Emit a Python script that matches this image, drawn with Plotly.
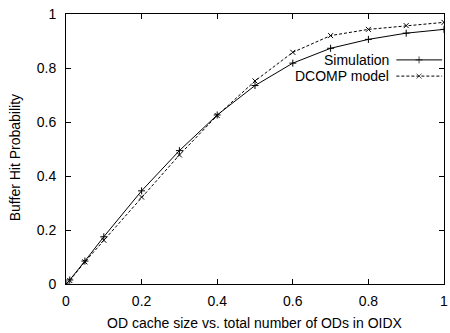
import plotly.graph_objects as go

# OD cache size as a fraction of all ODs in OIDX
cache_fraction = [0, 0.01, 0.05, 0.1, 0.2, 0.3, 0.4, 0.5, 0.6, 0.7, 0.8, 0.9, 1.0]
# Measured buffer hit probability
simulation = [0, 0.015, 0.085, 0.175, 0.345, 0.494, 0.626, 0.735, 0.818, 0.873, 0.906, 0.929, 0.943]
# Predicted by the DCOMP model
dcomp_model = [0, 0.013, 0.082, 0.162, 0.322, 0.478, 0.624, 0.752, 0.858, 0.920, 0.943, 0.957, 0.969]

x_ticks = [0, 0.2, 0.4, 0.6, 0.8, 1.0]
x_tick_labels = ["0", "0.2", "0.4", "0.6", "0.8", "1"]
y_ticks = [0, 0.2, 0.4, 0.6, 0.8, 1.0]
y_tick_labels = ["0", "0.2", "0.4", "0.6", "0.8", "1"]

series_names = ["Simulation", "DCOMP model"]
x_title = "OD cache size vs. total number of ODs in OIDX"
y_title = "Buffer Hit Probability"

FONT = "Liberation Sans, Arial, Helvetica, sans-serif"
FS = 14
MS = 5

fig = go.Figure()

fig.add_trace(go.Scatter(
    x=cache_fraction, y=simulation, name=series_names[0], mode="lines+markers",
    line=dict(color="black", width=1),
    marker=dict(symbol="cross-thin", size=MS, line=dict(color="black", width=1)),
    showlegend=False,
))
fig.add_trace(go.Scatter(
    x=cache_fraction, y=dcomp_model, name=series_names[1], mode="lines+markers",
    line=dict(color="black", width=1, dash="3px,2px"),
    marker=dict(symbol="x-thin", size=MS, line=dict(color="black", width=1)),
    showlegend=False,
))

# Key samples drawn on an overlay axis spanning the plot area (0..1 both ways)
key_x = [0.874, 0.934, 0.995]
key_rows = [0.830, 0.770]
styles = [
    dict(line=dict(color="black", width=1),
         marker=dict(symbol="cross-thin", size=[0, MS, 0], line=dict(color="black", width=1))),
    dict(line=dict(color="black", width=1, dash="3px,2px"),
         marker=dict(symbol="x-thin", size=[0, MS, 0], line=dict(color="black", width=1))),
]
for name, row, st in zip(series_names, key_rows, styles):
    fig.add_trace(go.Scatter(
        x=key_x, y=[row] * 3, mode="lines+markers", xaxis="x2", yaxis="y2",
        showlegend=False, hoverinfo="skip", **st,
    ))
    fig.add_annotation(
        x=0.86, y=row, xref="paper", yref="paper", text=name, showarrow=False,
        xanchor="right", yanchor="middle", font=dict(family=FONT, size=FS, color="black"),
    )

# Axis titles
fig.add_annotation(
    x=0.5, y=-0.144, xref="paper", yref="paper", text=x_title, showarrow=False,
    xanchor="center", yanchor="middle", font=dict(family=FONT, size=FS, color="black"),
)
fig.add_annotation(
    x=-0.134, y=0.467, xref="paper", yref="paper", text=y_title, showarrow=False,
    textangle=-90, xanchor="center", yanchor="middle",
    font=dict(family=FONT, size=FS, color="black"),
)

axis_common = dict(
    showline=True, linecolor="black", linewidth=1, mirror="ticks",
    ticks="inside", ticklen=5, tickcolor="black", tickwidth=1,
    showgrid=False, zeroline=False, ticklabeloverflow="allow",
    tickfont=dict(family=FONT, size=FS, color="black"),
)

fig.update_layout(
    width=450, height=333,
    margin=dict(l=66, r=2, t=14, b=49),
    paper_bgcolor="white", plot_bgcolor="white",
    font=dict(family=FONT, size=FS, color="black"),
    xaxis=dict(
        range=[0, 1], tickvals=x_ticks, ticktext=x_tick_labels,
        ticklabelstandoff=4,
        **axis_common,
    ),
    yaxis=dict(
        range=[0, 1], tickvals=y_ticks, ticktext=y_tick_labels,
        ticklabelstandoff=6,
        **axis_common,
    ),
    xaxis2=dict(range=[0, 1], overlaying="x", visible=False, fixedrange=True),
    yaxis2=dict(range=[0, 1], overlaying="y", visible=False, fixedrange=True),
)

fig.write_html("out.html")
